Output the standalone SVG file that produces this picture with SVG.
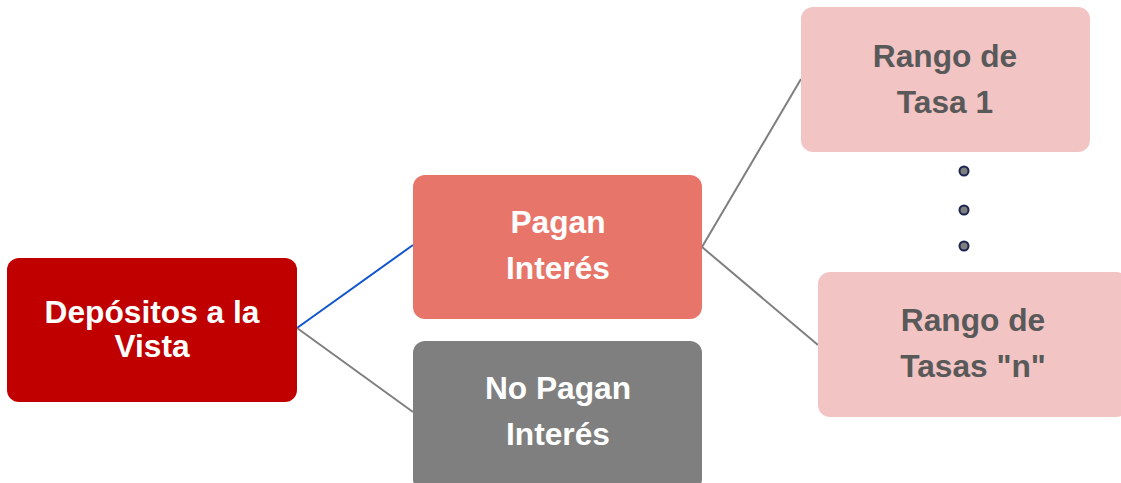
<svg xmlns="http://www.w3.org/2000/svg" width="1121" height="483" viewBox="0 0 1121 483">
  <style>
    .lbl { font-family: "Liberation Sans", Arial, sans-serif; font-weight: bold; font-size: 31.7px; text-anchor: middle; }
    .light { fill: #ffffff; }
    .dark { fill: #595959; }
    .link { fill: none; stroke: #7f7f7f; stroke-width: 2; }
    .link-blue { fill: none; stroke: #1155cc; stroke-width: 2; }
    .dot { fill: #7f7f7f; stroke: #1b2550; stroke-width: 2; }
  </style>
  <rect width="1121" height="483" fill="#ffffff"/>

  <g id="connectors">
    <line class="link-blue" x1="297" y1="328" x2="413" y2="245"/>
    <line class="link" x1="297" y1="328" x2="413" y2="412"/>
    <line class="link" x1="702" y1="247" x2="801" y2="79"/>
    <line class="link" x1="702" y1="247" x2="818" y2="345"/>
  </g>

  <g id="depositos">
    <rect x="7" y="258" width="290" height="144" rx="12" fill="#c00000"/>
    <text class="lbl light" x="152" y="323">Depósitos a la</text>
    <text class="lbl light" x="152" y="357">Vista</text>
  </g>

  <g id="pagan">
    <rect x="413" y="175" width="289" height="144" rx="12" fill="#e8756a"/>
    <text class="lbl light" x="558" y="233">Pagan</text>
    <text class="lbl light" x="558" y="279">Interés</text>
  </g>

  <g id="no-pagan">
    <rect x="413" y="341" width="289" height="150" rx="12" fill="#7f7f7f"/>
    <text class="lbl light" x="558" y="399">No Pagan</text>
    <text class="lbl light" x="558" y="445">Interés</text>
  </g>

  <g id="rango-1">
    <rect x="801" y="7" width="289" height="145" rx="12" fill="#f2c4c4"/>
    <text class="lbl dark" x="945" y="67">Rango de</text>
    <text class="lbl dark" x="945" y="113">Tasa 1</text>
  </g>

  <g id="ellipsis">
    <circle class="dot" cx="964" cy="171" r="4.5"/>
    <circle class="dot" cx="964" cy="210" r="4.5"/>
    <circle class="dot" cx="964" cy="246" r="4.5"/>
  </g>

  <g id="rango-n">
    <rect x="818" y="272" width="310" height="145" rx="12" fill="#f2c4c4"/>
    <text class="lbl dark" x="973" y="331">Rango de</text>
    <text class="lbl dark" x="973" y="377">Tasas "n"</text>
  </g>
</svg>
